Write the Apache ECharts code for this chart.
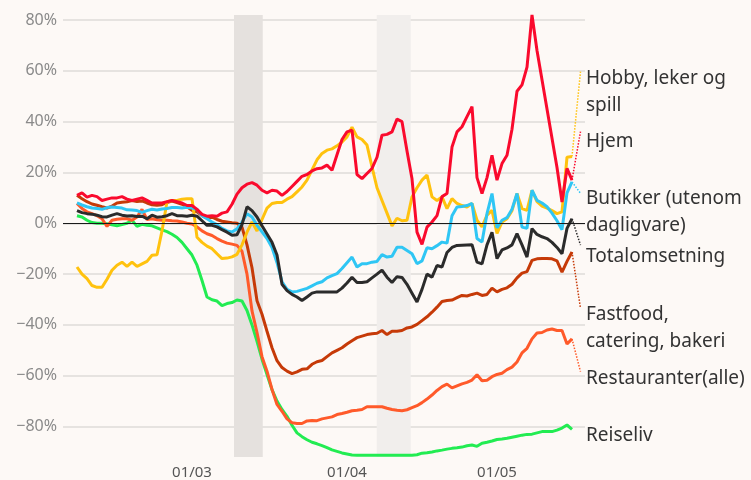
<!DOCTYPE html>
<html>
<head>
<meta charset="utf-8">
<script src="https://cdn.jsdelivr.net/npm/echarts@6/dist/echarts.min.js"></script>
<style>
	html, body { margin: 0; padding: 0; background: #fdf9f6; }
	#chart { width: 751px; height: 480px; }
</style>
</head>
<body>
<div id="chart"></div>
<script>
// dagsverdier fra 7. februar til 16. mai (endring i prosent)
const hjem = [11, 12, 10.3, 11, 10.5, 9, 9.5, 10, 10, 10.5, 9.5, 9, 9.5, 10, 9, 8, 8, 8, 8.5, 9, 8.5, 8, 7,
	7, 5.5, 3.5, 2.8, 3, 2.8, 4, 4.5, 7.5, 11.5,
	14, 15.4, 16, 15, 13, 12, 13, 12.7, 11, 12.5,
	14.5, 16.5, 18.5, 19.2, 20.6, 21.5, 21.8, 22.9, 20.9, 27,
	33, 36, 36.7, 19.2, 17.6, 19.6, 21.6, 26, 34.7, 35,
	36, 41, 40, 28.5, 17.5, -3.5, -8.3, -1.5, 0.5, 3,
	10.5, 11.7, 30, 36, 38, 42, 45.9, 18, 11.7, 18,
	26.8, 17, 23.5, 26.8, 37, 52, 54.5, 61.5, 82, 68,
	56.5, 45, 33.5, 22, 8.4, 21.6, 17];
const hobby = [-17.2, -20, -21.8, -24.5, -25.2, -25.2, -22, -18.5, -16.5, -15.3, -17, -15.3, -17, -16, -15, -12.6, -12.4, -3, 8.5, 9, 9, 9.5, 9.7,
	9.7, -5.5, -7.5, -9, -10, -12, -13.9, -13.7, -13.2, -12.2,
	-8.5, -3.5, 0.5, -3, 1.5, 6, 7.8, 8.2, 8.2, 9.5,
	10.5, 12.4, 14.3, 17, 21, 25, 27.5, 28.8, 29.3, 30.5,
	32, 34, 37.8, 34, 33, 30.8, 22.2, 14, 9, 4,
	-1, 2, 1, 1.2, 10.4, 14, 17, 19, 10.4, 9,
	10.4, 5.8, 9.7, 7.8, 7, 6.4, 7.8, 1.2, -1.4, 3.2,
	5.1, -4, 0.5, 1.8, 5, 11.7, 5.8, 5.1, 13, 8.5,
	6.8, 6, 5, 3.8, 4.5, 26, 26.3];
const butikker = [8, 7.2, 6.5, 6, 5.8, 5.5, 6.2, 6.4, 6.2, 6, 5.3, 5.2, 5, 4.3, 5, 5.5, 5.2, 5.6, 5.8, 6.2, 6.2, 6, 6.3,
	6, 5.5, 3, 1.8, 0.5, -0.5, -2, -3, -3.4, -2.2,
	0.5, 3.8, 2.5, -0.8, -3.4, -6, -9.5, -15.5, -23, -26,
	-27, -26.8, -26.2, -25.6, -24.6, -23.6, -23, -21.5, -20.6, -19.8,
	-17.8, -15.5, -13.3, -17.2, -15.9, -15.9, -15.3, -15, -12.3, -13.3,
	-13, -9.4, -9.4, -10.7, -12, -15.9, -14.8, -9.6, -10, -8.8,
	-7.4, -7.8, 3, 6.4, 6.6, 7, 7.8, -6, -7.4, 3.8,
	11.7, -1.8, 1.2, 2.2, 5.5, 11.7, -1.5, -2, 13, 9,
	8, 6.5, 4, 1, -2.5, 12, 16.3];
const total = [5, 4.2, 3.8, 3.6, 3.2, 2.6, 2.5, 3.2, 3.8, 3.2, 2.9, 3, 2.7, 2.8, 1.8, 3.2, 2.4, 2.6, 3, 3.8, 3, 3, 2.8,
	3.2, 2.8, 1, -0.8, -0.8, -1.4, -2.5, -3.5, -4.7, -4.5,
	-0.5, 6.5, 5, 2.5, -1, -4.2, -7.5, -12.5, -24, -26.5,
	-28, -29, -30.4, -29, -27.5, -27, -27, -27, -27, -27,
	-25.5, -23.5, -21.2, -23.3, -23.3, -23, -21.5, -20, -18.4, -21.2,
	-23.3, -21, -21.3, -24, -27.5, -31, -26, -20, -21.2, -16.6,
	-17.2, -11.5, -9.5, -8.7, -8.6, -8.5, -8.4, -15.3, -16, -8.5,
	-3.5, -13.9, -10.5, -9.7, -8.5, -4.1, -8.5, -13.3, -2.1, -4.4,
	-5.3, -6, -7.5, -9.5, -12, -2, 1.8];
const fastfood = [11, 9.7, 8.5, 7.6, 7.1, 6.5, 6, 6.8, 8, 8.3, 8.5, 9, 8.6, 8.8, 8, 7.3, 7.1, 7.3, 8.2, 8.8, 8.2, 7.5, 6.5,
	5.1, 4.5, 3, 2, 2.4, 1.5, 0.8, 0.5, 0.2, 0,
	-1.5, -8.5, -17.5, -30.5, -35.8, -42.5, -49, -54.1, -56.8, -58.2,
	-59.2, -58.5, -57.5, -57.3, -55.5, -54.5, -54, -52.5, -51, -50,
	-49, -47.5, -46.2, -45, -44.4, -43.8, -43.5, -43.3, -42.2, -43.8,
	-42.5, -42.5, -42.2, -41.2, -40.8, -39.8, -38.3, -36.8, -35, -33,
	-30.8, -30.4, -30.2, -29.3, -28.4, -28.6, -28, -27.5, -28.4, -28,
	-25.5, -27, -26, -25.4, -24, -21.5, -19.6, -19, -14.6, -14,
	-13.9, -13.9, -14, -14.8, -19.2, -15, -11.3];
const restauranter = [7.8, 5.8, 4.5, 3.8, 3, 1.8, -1.2, 1.2, 1.6, 1.8, 1.8, 1.2, 2.5, 5.5, 1.5, 1.8, 1.4, 1.2, 1.2, 1, 0.9, 0.5, 0,
	-0.3, -1.4, -3, -4.1, -4.8, -6, -7, -7.8, -8.2, -8.7,
	-11, -20, -34.5, -43, -52.5, -58.2, -65.4, -71.3, -74, -77,
	-78.5, -78.8, -78.8, -77.8, -77.6, -77.7, -77, -76.6, -76.2, -75.3,
	-74.9, -74.4, -73.8, -73.6, -73.3, -72.2, -72.2, -72.2, -72.2, -72.8,
	-73.3, -73.6, -73.8, -73.4, -72.6, -71.8, -70.6, -69.2, -67.6, -65.8,
	-64.3, -63.3, -64.8, -64, -63.2, -62.6, -61.7, -59.6, -62, -61.8,
	-60.4, -59.5, -59, -57.6, -56.6, -54.6, -51, -49.2, -45.5, -43.2,
	-43, -42, -41.6, -42.2, -42.2, -47.5, -45.5];
const reiseliv = [3, 2.5, 1.2, 0.3, 0, 0, -0.2, -0.6, -1, -0.5, 0, 1.2, -1.2, -0.4, -0.8, -1, -1.8, -2.6, -3.3, -4.3, -5.6, -7.5, -10,
	-12.5, -16.5, -22.5, -29, -30.1, -30.6, -32.4, -31.6, -31.2, -30.2,
	-30.6, -34.3, -40, -46.5, -53.5, -59.5, -65.5, -70, -73.3, -76,
	-79.5, -82.5, -84, -85.2, -86.2, -86.8, -87.5, -88.3, -89.2, -89.8,
	-90.4, -90.8, -91.2, -91.3, -91.3, -91.3, -91.3, -91.3, -91.3, -91.3,
	-91.3, -91.3, -91.3, -91.3, -91.3, -91.1, -90.5, -90.3, -90, -89.6,
	-89.3, -88.9, -88.6, -88.4, -88.1, -87.6, -87.3, -87.8, -86.6, -86.2,
	-85.7, -85.1, -84.9, -84.6, -84.2, -83.8, -83.4, -83.1, -83, -82.5,
	-82, -82, -82, -81.4, -80.6, -79.4, -81.1];

const DAY = 86400000;
const march1 = new Date(2020, 2, 1);
// datoer: én per dag, fra 7. februar
const dates = Array.from({ length: hjem.length }, (it, i) => new Date(2020, 1, 7 + i));
// aksetekster
const monthTicks = [new Date(2020, 2, 1), new Date(2020, 3, 1), new Date(2020, 4, 1)];
const yTicks = [-80, -60, -40, -20, 0, 20, 40, 60, 80];

// x-aksen regnes i dager etter 1. mars
function dayOf(date) {
	return Math.round((date - march1) / DAY);
}
function pad(n) {
	return (n < 10 ? '0' : '') + n;
}
const days = dates.map(dayOf);

// serier: navn, farge, hvor teksten står, og hvor den prikkede linja ender
const seriesDefs = [
	{ name: 'Reiseliv', values: reiseliv, color: '#22ec52', labelAt: -83.6, leaderTo: null },
	{ name: 'Restauranter(alle)', values: restauranter, color: '#ff5a2a', labelAt: -61.1, leaderTo: -58.4 },
	{ name: 'Fastfood,\ncatering, bakeri', values: fastfood, color: '#c63a08', labelAt: -41.2, leaderTo: -33.5 },
	{ name: 'Hobby, leker og\nspill', values: hobby, color: '#ffc20e', labelAt: 51.5, leaderTo: 59.7 },
	{ name: 'Butikker (utenom\ndagligvare)', values: butikker, color: '#2fc6f4', labelAt: 4.4, leaderTo: 11.8 },
	{ name: 'Totalomsetning', values: total, color: '#2b2b2b', labelAt: -13.2, leaderTo: -8.6 },
	{ name: 'Hjem', values: hjem, color: '#fa0a2d', labelAt: 32, leaderTo: 36.1 },
];

(function () {
	const myChart = echarts.init(document.getElementById('chart'));
	const lastIndex = days.length - 1;

	const series = seriesDefs.map(function (s) {
		const markLine = s.leaderTo === null ? undefined : {
			silent: true,
			symbol: ['none', 'none'],
			label: { show: false },
			lineStyle: { color: s.color, type: 'dotted', width: 1.5 },
			data: [[
				{ coord: [days[lastIndex], s.values[lastIndex]] },
				{ coord: [77.7, s.leaderTo] },
			]],
		};
		return {
			name: s.name,
			type: 'line',
			z: 3,
			showSymbol: false,
			symbol: 'none',
			data: s.values.map((v, i) => [days[i], v]),
			lineStyle: { color: s.color, width: 3 },
			itemStyle: { color: s.color },
			emphasis: { disabled: true },
			markLine: markLine,
			markPoint: {
				silent: true,
				symbol: 'circle',
				symbolSize: 0,
				data: [{ coord: [78.4, s.labelAt] }],
				label: {
					show: true,
					position: 'right',
					distance: 2,
					formatter: s.name,
					color: '#333',
					fontFamily: 'Noto Sans',
					fontSize: 19,
					lineHeight: 27,
				},
			},
		};
	});

	// grå felt og nullinje
	series.unshift({
		type: 'line',
		z: 1,
		data: [],
		markArea: {
			silent: true,
			data: [
				[{ xAxis: 8.4, itemStyle: { color: '#e5e1de' } }, { xAxis: 14.15 }],
				[{ xAxis: 36.95, itemStyle: { color: '#f1eeec' } }, { xAxis: 43.75 }],
			],
		},
		markLine: {
			silent: true,
			symbol: ['none', 'none'],
			label: { show: false },
			lineStyle: { color: '#1a1a1a', type: 'solid', width: 1 },
			data: [{ yAxis: 0 }],
		},
	});

	myChart.setOption({
		animation: false,
		backgroundColor: '#fdf9f6',
		grid: { left: 63, right: 166, top: 15, height: 442, outerBoundsMode: 'none' },
		xAxis: {
			type: 'value',
			min: -25.8,
			max: 78.6,
			axisLine: { show: false },
			axisTick: { show: false, customValues: monthTicks.map(dayOf) },
			splitLine: { show: false },
			axisLabel: {
				customValues: monthTicks.map(dayOf),
				formatter: function (value) {
					const dt = new Date(march1.getTime() + value * DAY);
					return pad(dt.getDate()) + '/' + pad(dt.getMonth() + 1);
				},
				color: '#555',
				fontFamily: 'Noto Sans',
				fontSize: 15,
				margin: 8,
			},
		},
		yAxis: {
			type: 'value',
			min: -92,
			max: 82,
			axisLine: { show: false },
			axisTick: { show: false, customValues: yTicks },
			splitLine: { show: true, lineStyle: { color: '#dedbd9', width: 1.5 } },
			axisLabel: {
				customValues: yTicks,
				formatter: function (v) {
					return (v < 0 ? '\u2212' + -v : v) + '%';
				},
				color: '#8a8a8a',
				fontFamily: 'Noto Sans',
				fontSize: 16,
				margin: 6,
			},
		},
		series: series,
	});
})();
</script>
</body>
</html>
